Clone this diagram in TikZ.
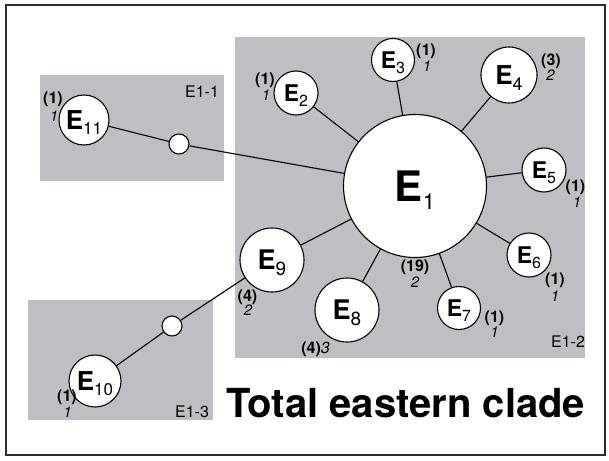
\documentclass[tikz,border=0pt]{standalone}
\usepackage{fontspec}
\setmainfont{TeX Gyre Heros}
\definecolor{regiongray}{RGB}{190,191,194}
\definecolor{framegray}{RGB}{45,45,45}
% haplotype label: bold E with a lowered regular-weight index
% #1 size of E, #2 size of index, #3 drop of index, #4 index
\newcommand\haplab[4]{\fontsize{#1}{#1}\selectfont\bfseries E\smash{\raisebox{-#3}{\fontsize{#2}{#2}\selectfont\mdseries #4}}}
\begin{document}
\begin{tikzpicture}[x=1pt,y=-1pt,
  region/.style={fill=regiongray,draw=none},
  frame/.style={draw=framegray,line width=2.4pt},
  hap/.style={circle,draw=black,fill=white,line width=1.1pt,inner sep=0pt},
  link/.style={draw=black,line width=1.1pt},
  cnt/.style={font=\fontsize{16}{16}\selectfont\bfseries,inner sep=0pt},
  frq/.style={font=\fontsize{15}{15}\selectfont\itshape,inner sep=0pt},
  tag/.style={font=\fontsize{16}{16}\selectfont,inner sep=0pt},
  title/.style={font=\fontsize{40}{40}\selectfont\bfseries,inner sep=0pt}]
\useasboundingbox (0,0) rectangle (609,460);

% outer frame
\draw[frame] (6,5) rectangle (605,455);

% subclade regions
\fill[region] (40,75) rectangle (224,181);
\fill[region] (235,37) rectangle (585,358);
\fill[region] (28,300) rectangle (213,420);

% haplotypes
\node[hap,minimum size=143pt] (E1) at (415,186) {\haplab{42}{22}{8pt}{1}};
\node[hap,minimum size=44pt] (E2) at (296,93) {\haplab{23}{16}{5pt}{2}};
\node[hap,minimum size=43pt] (E3) at (393,60) {\haplab{23}{16}{5pt}{3}};
\node[hap,minimum size=56pt] (E4) at (509,75) {\haplab{26}{18}{6pt}{4}};
\node[hap,minimum size=44pt] (E5) at (544,170) {\haplab{23}{16}{5pt}{5}};
\node[hap,minimum size=44pt] (E6) at (529,255) {\haplab{23}{16}{5pt}{6}};
\node[hap,minimum size=43pt] (E7) at (459,308) {\haplab{23}{16}{5pt}{7}};
\node[hap,minimum size=64pt] (E8) at (347,310) {\haplab{27}{19}{6pt}{8}};
\node[hap,minimum size=64pt] (E9) at (272,260) {\haplab{27}{19}{6pt}{9}};
\node[hap,minimum size=52pt] (E10) at (95,381) {\haplab{26}{17}{5pt}{10}};
\node[hap,minimum size=50pt] (E11) at (84,120) {\haplab{26}{17}{5pt}{11}};
% missing intermediates
\node[hap,minimum size=20pt] (m1) at (179,144) {};
\node[hap,minimum size=20pt] (m2) at (172,326) {};

% mutational steps
\draw[link] (E11) -- (m1);
\draw[link] (m1) -- (E1);
\foreach \h in {E2,E3,E4,E5,E6,E7,E8,E9}
  \draw[link] (E1) -- (\h);
\draw[link] (E9) -- (m2);
\draw[link] (m2) -- (E10);

% sample counts (bold) and number of populations (italic)
\node[cnt] (c1) at (415,267) {(19)};  \node[frq] (f1) at (415,282.5) {2};
\node[cnt] (c2) at (265,80) {(1)};    \node[frq] (f2) at (266,95) {1};
\node[cnt] (c3) at (426,51.5) {(1)};  \node[frq] (f3) at (427,66.5) {1};
\node[cnt] (c4) at (551,61.5) {(3)};  \node[frq] (f4) at (550.5,75) {2};
\node[cnt] (c5) at (575.5,187.5) {(1)}; \node[frq] (f5) at (577,202) {1};
\node[cnt] (c6) at (555,280.5) {(1)}; \node[frq] (f6) at (555,296) {1};
\node[cnt] (c7) at (494.5,318) {(1)}; \node[frq] (f7) at (494.5,332.5) {1};
\node[cnt] (c8) at (315.5,349.5) {(4)\textnormal{\itshape 3}};
\node[cnt] (c9) at (247.5,297) {(4)}; \node[frq] (f9) at (248,310) {2};
\node[cnt] (c10) at (67,397.5) {(1)}; \node[frq] (f10) at (67.5,412.5) {1};
\node[cnt] (c11) at (53,99) {(1)};    \node[frq] (f11) at (54,116) {1};

% region names
\node[tag] (r1) at (202,92) {E1-1};
\node[tag] (r2) at (568,342) {E1-2};
\node[tag] (r3) at (192,412) {E1-3};

\node[title,anchor=base west] (ttl) at (226,417) {Total eastern clade};
\end{tikzpicture}
\end{document}
